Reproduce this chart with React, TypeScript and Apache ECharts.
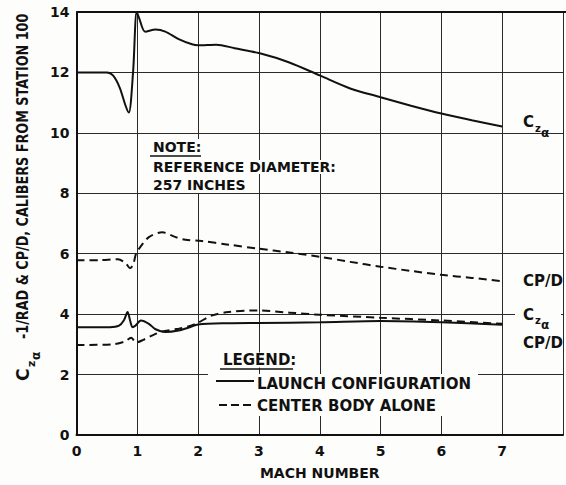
import React, { useEffect, useRef } from "react";
import * as echarts from "echarts";

// ---- data ----
const machCzLaunch = [0, 0.5, 0.6, 0.71, 0.81, 0.86, 0.93, 0.99, 1.03, 1.13, 1.3, 1.46, 1.68, 1.9, 2.0, 2.3, 2.6, 3.0, 3.5, 4.0, 4.5, 5.0, 5.5, 6.0, 6.5, 7.0];
const czLaunch = [12.0, 12.0, 11.9, 11.5, 10.88, 10.67, 12.0, 14.0, 13.8, 13.35, 13.42, 13.35, 13.1, 12.93, 12.9, 12.92, 12.8, 12.64, 12.33, 11.9, 11.47, 11.18, 10.9, 10.64, 10.42, 10.21];

const machCpBody = [0, 0.4, 0.68, 0.81, 0.88, 0.93, 0.98, 1.03, 1.19, 1.41, 1.63, 1.79, 2.06, 2.5, 2.98, 3.5, 4.0, 4.5, 5.0, 5.5, 6.0, 6.5, 7.0];
const cpBody = [5.78, 5.79, 5.82, 5.68, 5.52, 5.63, 6.01, 6.17, 6.55, 6.71, 6.55, 6.46, 6.42, 6.3, 6.17, 6.04, 5.9, 5.73, 5.57, 5.43, 5.3, 5.2, 5.09];

const machCpLaunch = [0, 0.55, 0.7, 0.78, 0.84, 0.88, 0.92, 0.97, 1.06, 1.19, 1.3, 1.46, 1.68, 1.85, 2.0, 2.5, 3.0, 4.0, 5.0, 6.0, 7.0];
const cpLaunch = [3.57, 3.57, 3.62, 3.8, 4.07, 3.8, 3.57, 3.62, 3.79, 3.68, 3.5, 3.41, 3.46, 3.56, 3.66, 3.7, 3.71, 3.73, 3.77, 3.73, 3.65];

const machCzBody = [0, 0.6, 0.79, 0.9, 0.98, 1.1, 1.25, 1.4, 1.68, 1.85, 2.0, 2.22, 2.5, 2.87, 3.0, 3.5, 4.0, 5.0, 6.0, 7.0];
const czBody = [2.98, 3.0, 3.09, 3.22, 3.06, 3.15, 3.3, 3.42, 3.52, 3.6, 3.72, 3.95, 4.07, 4.12, 4.12, 4.05, 3.98, 3.88, 3.79, 3.68];

const xTickLabels = ["0", "1", "2", "3", "4", "5", "6", "7"];
const yTickLabels = ["0", "2", "4", "6", "8", "10", "12", "14"];

const xAxisTitle = "MACH NUMBER";
const yAxisTitleMain = "-1/RAD & CP/D, CALIBERS FROM STATION 100";
const noteLines = ["NOTE:", "REFERENCE DIAMETER:", "257 INCHES"];
const legendLabels = ["LEGEND:", "LAUNCH CONFIGURATION", "CENTER BODY ALONE"];

const zip = (xs: number[], ys: number[]) => xs.map((x, i) => [x, ys[i]]);

const INK = "#111";
const GRID = "#2a2a2a";
const BG = "#fdfdfb";
const FF = '"DejaVu Sans", sans-serif';
const font = (s: number) => `bold ${s}px ${FF}`;

function txt(text: string, x: number, y: number, size: number, extra: any = {}) {
  return {
    type: "text",
    x,
    y,
    z: 100,
    ...extra,
    style: {
      text,
      font: font(size),
      fill: INK,
      align: "left",
      textAlign: "left",
      verticalAlign: "middle",
      textVerticalAlign: "middle",
      ...(extra.style || {}),
    },
  };
}

export default function App() {
  const ref = useRef<HTMLDivElement>(null);
  useEffect(() => {
    if (!ref.current) return;
    const chart = echarts.init(ref.current, undefined, { renderer: "svg" });
    const solid = { color: INK, width: 2, type: "solid" as any };
    const dashed = { color: INK, width: 2, type: [8, 5] as any };
    const lineSeries = (name: string, data: number[][], ls: any) => ({
      name,
      type: "line",
      data,
      smooth: 0.3,
      symbol: "none",
      lineStyle: ls,
      z: 5,
    });
    const bgPad = { backgroundColor: BG, padding: [0, 3] };

    chart.setOption({
      animation: false,
      backgroundColor: BG,
      grid: { left: 76.5, right: -3.3, top: 12, bottom: 43.3, containLabel: false },
      xAxis: {
        type: "value",
        min: 0,
        max: 8,
        interval: 1,
        name: xAxisTitle,
        nameLocation: "middle",
        nameGap: 31,
        nameTextStyle: { fontFamily: FF, fontWeight: "bold", fontSize: 14, color: INK },
        axisLine: { show: true, lineStyle: { color: INK, width: 2 } },
        axisTick: { show: false },
        axisLabel: {
          margin: 9,
          fontFamily: FF,
          fontWeight: "bold",
          fontSize: 14,
          color: INK,
          formatter: (v: number) => (Number.isInteger(v) && v <= 7 ? xTickLabels[v] : ""),
        },
        splitLine: { show: true, lineStyle: { color: GRID, width: 1 } },
      },
      yAxis: {
        type: "value",
        min: 0,
        max: 14,
        interval: 2,
        axisLine: { show: true, lineStyle: { color: INK, width: 2 } },
        axisTick: { show: false },
        axisLabel: {
          margin: 7,
          fontFamily: FF,
          fontWeight: "bold",
          fontSize: 14,
          color: INK,
          formatter: (v: number) => yTickLabels[Math.round(v / 2)] ?? "",
        },
        splitLine: { show: true, lineStyle: { color: GRID, width: 1 } },
      },
      series: [
        lineSeries("Cz_α launch configuration", zip(machCzLaunch, czLaunch), solid),
        lineSeries("CP/D center body alone", zip(machCpBody, cpBody), dashed),
        lineSeries("CP/D launch configuration", zip(machCpLaunch, cpLaunch), solid),
        lineSeries("Cz_α center body alone", zip(machCzBody, czBody), dashed),
      ],
      graphic: [
        // top border thicker
        { type: "line", z: 50, shape: { x1: 76.5, y1: 12, x2: 566, y2: 12 }, style: { stroke: INK, lineWidth: 2 } },
        // y-axis title
        {
          type: "group",
          x: 22.5,
          y: 381,
          rotation: Math.PI / 2,
          z: 100,
          children: [
            { type: "text", x: 0, y: 0, style: { text: "C", font: font(17), fill: INK, align: "left", verticalAlign: "middle" } },
            { type: "text", x: 14, y: 9, style: { text: "z", font: font(11), fill: INK, align: "left", verticalAlign: "middle" } },
            { type: "text", x: 21, y: 13, style: { text: "α", font: font(12), fill: INK, align: "left", verticalAlign: "middle" } },
            { type: "text", x: 42, y: 0, scaleX: 0.8, style: { text: yAxisTitleMain, font: font(16), fill: INK, align: "left", verticalAlign: "middle" } },
          ],
        },
        // note
        { type: "rect", z: 99, shape: { x: 146, y: 139, width: 60, height: 54 }, style: { fill: BG } },
        txt(noteLines[0], 150, 147, 14, { style: bgPad }),
        { type: "line", z: 101, shape: { x1: 150, y1: 156, x2: 201, y2: 156 }, style: { stroke: INK, lineWidth: 1.6 } },
        txt(noteLines[1], 150, 167, 14, { style: bgPad }),
        txt(noteLines[2], 150, 185, 14, { style: bgPad }),
        // legend
        { type: "rect", z: 99, shape: { x: 208, y: 374, width: 270, height: 42 }, style: { fill: BG } },
        txt(legendLabels[0], 220, 360, 15, { style: bgPad }),
        { type: "line", z: 101, shape: { x1: 220, y1: 369, x2: 293, y2: 369 }, style: { stroke: INK, lineWidth: 1.6 } },
        { type: "line", z: 101, shape: { x1: 216, y1: 381, x2: 254, y2: 381 }, style: { stroke: INK, lineWidth: 2 } },
        txt(legendLabels[1], 257, 384, 15),
        { type: "line", z: 101, shape: { x1: 219, y1: 405, x2: 255, y2: 405 }, style: { stroke: INK, lineWidth: 2, lineDash: [8, 4] } },
        txt(legendLabels[2], 257, 406, 15),
        // right labels
        txt("C", 523, 122, 15),
        txt("z", 535, 128, 10),
        txt("α", 541, 133, 12),
        txt("CP/D", 523, 281, 15),
        { type: "rect", z: 99, shape: { x: 515, y: 314, width: 46, height: 9 }, style: { fill: BG } },
        txt("C", 523, 315, 15),
        txt("z", 535, 320, 10),
        txt("α", 541, 325, 12),
        txt("CP/D", 523, 343, 15),
      ],
    });
    return () => chart.dispose();
  }, []);
  return <div ref={ref} style={{ position: "absolute", left: 0, top: 0, width: 566, height: 485 }} />;
}
